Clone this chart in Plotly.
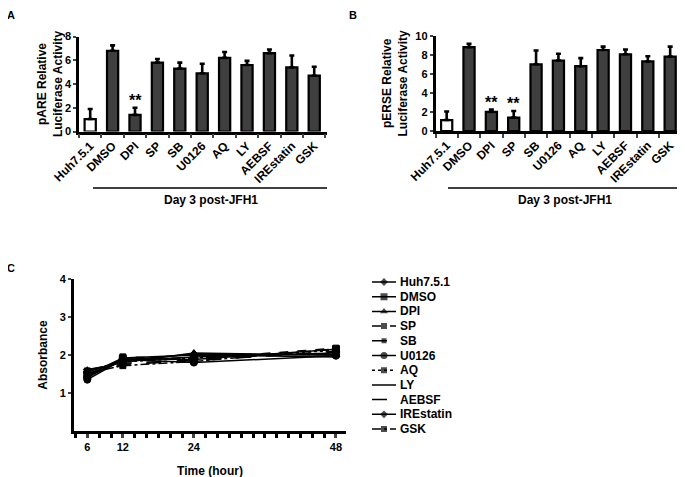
import plotly.graph_objects as go

W, H = 685, 477

categories = ["Huh7.5.1", "DMSO", "DPI", "SP", "SB", "U0126", "AQ", "LY", "AEBSF", "IREstatin", "GSK"]

# Panel A: pARE relative luciferase activity (mean, upper error)
pare_mean = [1.05, 6.8, 1.4, 5.8, 5.3, 4.9, 6.2, 5.6, 6.6, 5.4, 4.7]
pare_err = [0.85, 0.45, 0.6, 0.3, 0.5, 0.8, 0.5, 0.35, 0.3, 1.0, 0.75]

# Panel B: pERSE relative luciferase activity (mean, upper error)
perse_mean = [1.15, 8.8, 2.0, 1.4, 7.0, 7.4, 6.8, 8.5, 8.05, 7.3, 7.8]
perse_err = [0.9, 0.35, 0.25, 0.7, 1.45, 0.7, 0.85, 0.35, 0.5, 0.55, 1.05]

stars_a = ["", "", "**", "", "", "", "", "", "", "", ""]
stars_b = ["", "", "**", "**", "", "", "", "", "", "", ""]

# Panel C: absorbance over time
time_h = [6, 12, 24, 48]
series_names = ["Huh7.5.1", "DMSO", "DPI", "SP", "SB", "U0126", "AQ", "LY", "AEBSF", "IREstatin", "GSK"]
abs_huh = [1.55, 1.85, 1.95, 2.05]
abs_dmso = [1.45, 1.90, 1.88, 2.15]
abs_dpi = [1.60, 1.80, 2.05, 2.00]
abs_sp = [1.40, 1.95, 1.90, 2.18]
abs_sb = [1.50, 1.75, 1.85, 2.10]
abs_u0126 = [1.35, 1.88, 1.80, 1.98]
abs_aq = [1.58, 1.82, 1.92, 2.12]
abs_ly = [1.48, 1.92, 2.00, 1.95]
abs_aebsf = [1.62, 1.78, 1.87, 2.08]
abs_irestatin = [1.42, 1.86, 2.02, 2.00]
abs_gsk = [1.52, 1.72, 1.83, 2.16]
absorbance = [abs_huh, abs_dmso, abs_dpi, abs_sp, abs_sb, abs_u0126, abs_aq,
              abs_ly, abs_aebsf, abs_irestatin, abs_gsk]

line_styles = [
    ("solid", "diamond", 6),
    ("solid", "square", 7),
    ("solid", "triangle-up", 7),
    ("dash", "square", 6),
    ("longdash", "square", 5),
    ("solid", "circle", 7),
    ("dot", "square", 6),
    ("solid", "line-ew", 5),
    ("longdash", "line-ew", 0),
    ("solid", "diamond", 6),
    ("dashdot", "square", 6),
]

FONT = "Liberation Sans, Arial, sans-serif"
BAR_FILL = "#3f3f3f"
OFF = 8  # page body margin offset

def px_x(p):
    return (p - OFF) / W

def px_y(p):
    return 1 - (p - OFF) / H

fig = go.Figure()

def add_bars(xa, ya, mean, err):
    fills = ["white"] + [BAR_FILL] * (len(categories) - 1)
    fig.add_trace(go.Bar(
        x=categories, y=mean, xaxis=xa, yaxis=ya, width=0.5,
        marker=dict(color=fills, line=dict(color="black", width=2.2)),
        error_y=dict(type="data", symmetric=False, array=err,
                     arrayminus=[0] * len(err), color="black",
                     thickness=2.6, width=2.5),
        showlegend=False,
    ))

add_bars("x", "y", pare_mean, pare_err)
add_bars("x2", "y2", perse_mean, perse_err)

for i, (name, vals) in enumerate(zip(series_names, absorbance)):
    dash, sym, size = line_styles[i]
    fig.add_trace(go.Scatter(
        x=time_h, y=vals, name=name, xaxis="x3", yaxis="y3",
        mode="lines+markers",
        line=dict(color="black", width=1.5, dash=dash),
        marker=dict(symbol=sym, size=size, color="black",
                    line=dict(color="black", width=1)),
        showlegend=False,
    ))
    # legend sample (custom legend to reproduce the compact row spacing)
    fig.add_trace(go.Scatter(
        x=[0, 0.5, 1], y=[i, i, i], xaxis="x4", yaxis="y4",
        mode="lines+markers", hoverinfo="skip",
        line=dict(color="black", width=1.5, dash=dash),
        marker=dict(symbol=sym, size=[0, size, 0], color="black",
                    line=dict(color="black", width=0)),
        showlegend=False,
    ))

tickfont = dict(family=FONT, size=11, color="black", weight="bold")
common_bar_x = dict(
    type="category", tickson="boundaries", ticks="outside", ticklen=4,
    tickwidth=2, showline=True, linecolor="black", linewidth=2.5,
    tickangle=-45, tickfont=dict(family=FONT, size=12, color="black", weight="bold"),
    showgrid=False, zeroline=False, automargin=False,
)
common_y = dict(
    ticks="outside", ticklen=3, tickwidth=2, showline=True, linecolor="black",
    linewidth=2.5, showgrid=False, zeroline=False, tickfont=tickfont, automargin=False,
)

# legend rows: line from x=372 to 396 px, rows from y=282 every 14.7 px
LEG_X0, LEG_X1, LEG_Y0, LEG_DY = 372, 396, 282, 14.7
n = len(series_names)

fig.update_layout(
    width=W, height=H, margin=dict(l=0, r=0, t=0, b=0),
    paper_bgcolor="white", plot_bgcolor="white",
    font=dict(family=FONT, color="black", weight="bold"),
    showlegend=False,
    xaxis=dict(common_bar_x, domain=[px_x(79), px_x(327)], range=[-0.5, 10.57],
               anchor="y"),
    yaxis=dict(common_y, domain=[px_y(131.5), px_y(36.5)], range=[0, 8], dtick=2,
               anchor="x",
               title=dict(text="pARE Relative<br>Luciferase Activity",
                          font=dict(family=FONT, size=12, weight="bold"), standoff=0)),
    xaxis2=dict(common_bar_x, domain=[px_x(435.5), px_x(680)], range=[-0.5, 10.44],
                anchor="y2"),
    yaxis2=dict(common_y, domain=[px_y(131), px_y(35.7)], range=[0, 10], dtick=2,
                anchor="x2",
                title=dict(text="pERSE Relative<br>Luciferase Activity",
                           font=dict(family=FONT, size=12, weight="bold"), standoff=6)),
    xaxis3=dict(domain=[px_x(74), px_x(346)], range=[3.75, 49.7], anchor="y3",
                tickvals=[6, 12, 24, 48], ticks="outside", ticklen=4, tickwidth=2.5,
                minor=dict(ticks="outside", dtick=2, tick0=0, ticklen=4, tickwidth=2.5,
                           tickcolor="black"),
                showline=True, linecolor="black", linewidth=3, showgrid=False,
                zeroline=False, tickfont=tickfont, automargin=False,
                title=dict(text="Time (hour)", font=dict(family=FONT, size=12, weight="bold"),
                           standoff=15)),
    yaxis3=dict(common_y, domain=[px_y(431), px_y(279)], range=[0, 4],
                tickvals=[1, 2, 3, 4], anchor="x3", linewidth=3,
                title=dict(text="Absorbance", font=dict(family=FONT, size=12, weight="bold"),
                           standoff=10)),
    xaxis4=dict(domain=[px_x(LEG_X0), px_x(LEG_X1)], range=[0, 1], visible=False,
                anchor="y4", automargin=False),
    yaxis4=dict(domain=[px_y(LEG_Y0 + LEG_DY * (n - 1) + LEG_DY / 2),
                        px_y(LEG_Y0 - LEG_DY / 2)],
                range=[n - 0.5, -0.5], visible=False, anchor="x4", automargin=False),
)

annotations = []
for lbl, xp, yp in [("A", 11, 15), ("B", 353, 15), ("C", 11, 268)]:
    annotations.append(dict(text=lbl, x=px_x(xp), y=px_y(yp), xref="paper", yref="paper",
                            xanchor="center", yanchor="middle", showarrow=False,
                            font=dict(family=FONT, size=11, weight="bold")))

for i, name in enumerate(series_names):
    annotations.append(dict(text=name, x=px_x(LEG_X1 + 2), y=i, xref="paper", yref="y4",
                            xanchor="left", yanchor="middle", showarrow=False,
                            font=dict(family=FONT, size=12, weight="bold")))

for stars, mean, err, xa, ya in [(stars_a, pare_mean, pare_err, "x", "y"),
                                 (stars_b, perse_mean, perse_err, "x2", "y2")]:
    for c, s, m, e in zip(categories, stars, mean, err):
        if s:
            annotations.append(dict(text=s, x=c, y=m + e, xref=xa, yref=ya,
                                    xanchor="center", yanchor="bottom", showarrow=False,
                                    yshift=-3, font=dict(family=FONT, size=16, weight="bold")))

shapes = []
for x0, x1, xc in [(93, 327, 211), (448, 680, 565)]:
    shapes.append(dict(type="line", xref="paper", yref="paper",
                       x0=px_x(x0), x1=px_x(x1), y0=px_y(188), y1=px_y(188),
                       line=dict(color="black", width=1.5)))
    annotations.append(dict(text="Day 3 post-JFH1", x=px_x(xc), y=px_y(200),
                            xref="paper", yref="paper", xanchor="center",
                            yanchor="middle", showarrow=False,
                            font=dict(family=FONT, size=12, weight="bold")))

fig.update_layout(annotations=annotations, shapes=shapes)

fig.write_html("out.html")
